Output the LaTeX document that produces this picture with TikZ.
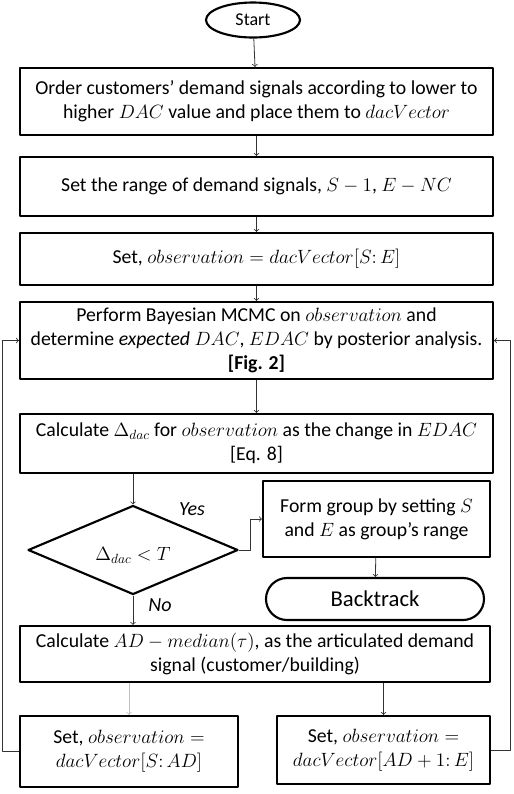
\documentclass[tikz,border=0pt]{standalone}
\usepackage[no-math]{fontspec}
\setmainfont{Carlito}
\usetikzlibrary{shapes.geometric}
\begin{document}
\begin{tikzpicture}[x=0.75pt,y=-0.75pt,line join=round]
\tikzstyle{box} = [draw,line width=1.6pt,rectangle,align=center,inner sep=0pt,font=\fontsize{14.8}{18}\selectfont]
\tikzstyle{term} = [draw,line width=1.6pt,ellipse,inner sep=0pt,font=\fontsize{13.5}{16}\selectfont]
\tikzstyle{flow} = [draw,line width=0.6pt,->,black!80]

\useasboundingbox (0,0) rectangle (514,794);

\node[term,minimum width=94*0.75pt,minimum height=35*0.75pt] (start) at (253,20) {Start};

\node[box,minimum width=473*0.75pt,minimum height=67*0.75pt] (order) at (256.5,101.5)
  {Order customers’ demand signals according to lower to\\higher $DAC$ value and place them to $dacVector$};
\node[box,minimum width=473*0.75pt,minimum height=59*0.75pt] (range) at (256.5,186.5)
  {Set the range of demand signals, $S-1$, $E-NC$};
\node[box,minimum width=473*0.75pt,minimum height=52*0.75pt] (setobs) at (256.5,259)
  {Set, $observation=dacVector[S\colon E]$};
\node[box,minimum width=473*0.75pt,minimum height=77*0.75pt] (mcmc) at (256.5,340.5)
  {Perform Bayesian MCMC on $observation$ and\\determine \textit{expected} $DAC$, $EDAC$ by posterior analysis.\\\textbf{[Fig. 2]}};
\node[box,minimum width=473*0.75pt,minimum height=59*0.75pt] (delta) at (256.5,443.5)
  {Calculate $\Delta_{dac}$ for $observation$ as the change in $EDAC$\\{[Eq. 8]}};

\node[box,diamond,minimum width=210*0.75pt,minimum height=89*0.75pt] (test) at (133,550) {};
\node[font=\fontsize{14.8}{18}\selectfont] (testlabel) at (133,555) {$\Delta_{dac}<T$};

\node[box,minimum width=227*0.75pt,minimum height=76*0.75pt] (group) at (376.5,519)
  {Form group by setting $S$\\and $E$ as group’s range};
\node[box,rounded corners=21*0.75pt,minimum width=218*0.75pt,minimum height=42*0.75pt,font=\fontsize{17}{18}\selectfont] (back) at (375,599) {Backtrack};

\node[box,minimum width=470*0.75pt,minimum height=56*0.75pt] (median) at (255,654)
  {Calculate $AD-median(\tau)$, as the articulated demand\\signal (customer/building)};
\node[box,minimum width=218*0.75pt,minimum height=71*0.75pt] (left) at (129,751.5)
  {Set, $observation=$\\$dacVector[S\colon AD]$};
\node[box,minimum width=213*0.75pt,minimum height=68*0.75pt] (right) at (383.5,750)
  {Set, $observation=$\\$dacVector[AD+1\colon E]$};

\node[font=\fontsize{15}{16}\selectfont\itshape] (yes) at (192,509) {Yes};
\node[font=\fontsize{15}{16}\selectfont\itshape] (no) at (160,605) {No};

\coordinate (yturn) at (250,550);
\coordinate (ltop) at (2,340.5);
\coordinate (lbot) at (2,751.5);
\coordinate (rtop) at (510,340.5);
\coordinate (rbot) at (510,750);

\draw[flow] (start) -- (order);
\draw[flow] (order) -- (range);
\draw[flow] (range) -- (setobs);
\draw[flow] (setobs) -- (mcmc);
\draw[flow] (mcmc) -- (delta);
\draw[flow] (delta.south -| test.north) -- (test.north);
\draw[flow] (test.east) -- (yturn) |- (group.west);
\draw[flow] (group) -- (back);
\draw[flow] (test.south) -- (median.north -| test.south);
\draw[flow,black!25] (median.south -| left.north) -- (left.north);
\draw[flow] (median.south -| right.north) -- (right.north);
\draw[flow] (left.west) -- (lbot) -- (ltop) -- (mcmc.west);
\draw[flow] (right.east) -- (rbot) -- (rtop) -- (mcmc.east);

\end{tikzpicture}
\end{document}
